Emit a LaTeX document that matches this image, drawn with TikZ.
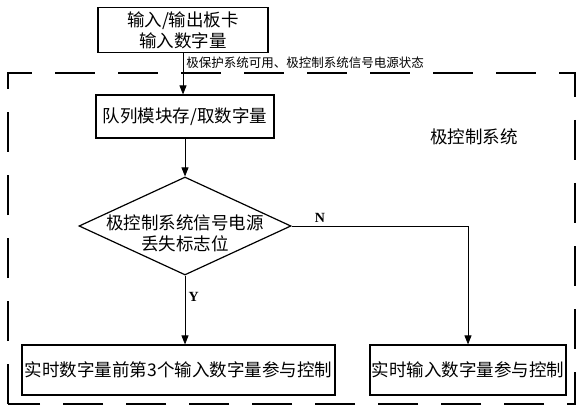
\documentclass[tikz,border=0pt]{standalone}
\usepackage{fontspec}
\setmainfont{Liberation Serif}
\newfontfamily\cjk{Noto Sans CJK SC}
\usetikzlibrary{positioning,arrows.meta,shapes.geometric}

\begin{document}
\begin{tikzpicture}[x=1pt, y=-1pt,
  font=\cjk\fontsize{17.5}{21}\selectfont, >={Triangle[length=9pt,width=7pt]},
  box/.style={draw, line width=1.2pt, align=center, inner sep=1pt},
  decision/.style={draw, diamond, line width=1.2pt, inner sep=0pt,
                   minimum width=212pt, minimum height=98pt},
  arr/.style={->, line width=0.8pt},
  region/.style={line width=1.8pt, dash pattern=on 40pt off 23pt},
  yn/.style={font=\rmfamily\bfseries\fontsize{14}{16}\selectfont},
]
\useasboundingbox (0,0) rectangle (583,414);

% pole control system boundary
\draw[region] (8,404) rectangle (575,73);
\node (sys) at (474,137) {极控制系统};

\node[box, minimum width=170pt, minimum height=45pt] (io) at (183,30)
  {输入/输出板卡\\输入数字量};
\node[box, minimum width=178pt, minimum height=43pt] (queue) at (185,116.5)
  {队列模块存/取数字量};
\node[decision, label={[align=center, yshift=-7pt]center:极控制系统信号电源\\丢失标志位}]
  (flag) at (185,226) {};

\node[box, minimum width=313pt, minimum height=50pt] (old) at (178.5,370)
  {实时数字量前第3个输入数字量参与控制};
\node[box, minimum width=196pt, minimum height=50pt] (now) at (468,370)
  {实时输入数字量参与控制};

\draw[arr] (io.south) -- node[pos=0.24, anchor=west, inner sep=3pt,
  font=\cjk\fontsize{12.5}{14}\selectfont] (sig) {极保护系统可用、极控制系统信号电源状态}
  (io.south |- queue.north);
\draw[arr] (queue.south) -- (flag.north);
\draw[arr] (flag.south) -- node[yn, pos=0.31, right] {Y} (flag.south |- old.north);
\draw[arr] (flag.east) -| node[yn, pos=0.08, above] {N} (now.north);
\end{tikzpicture}
\end{document}
